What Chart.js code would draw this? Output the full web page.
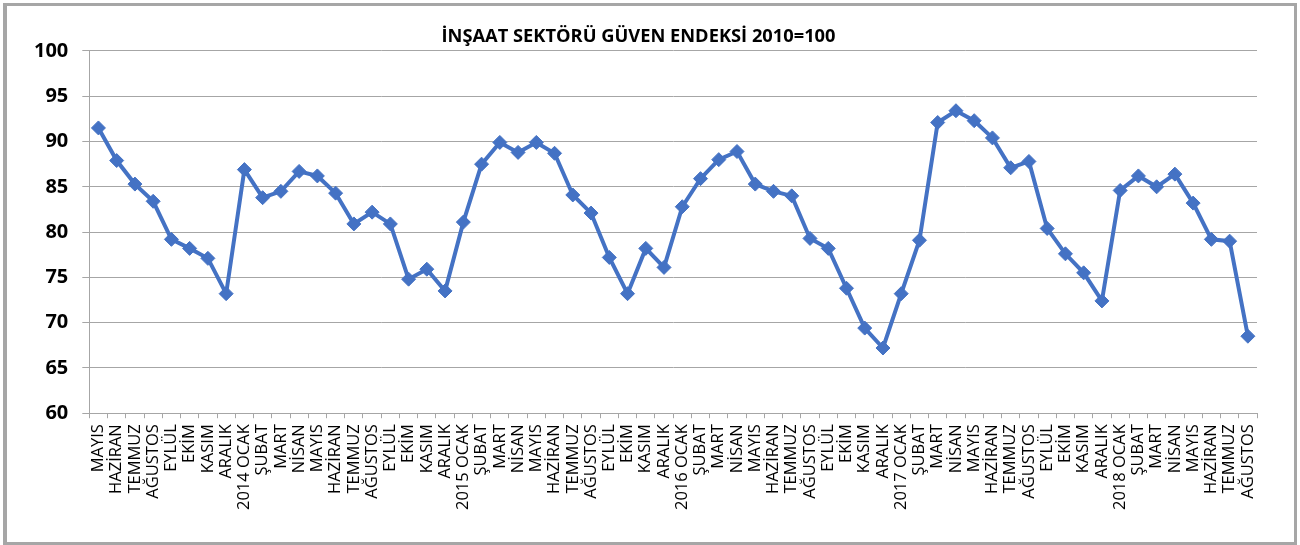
<!DOCTYPE html>
<html>
<head>
<meta charset="utf-8">
<script src="https://cdn.jsdelivr.net/npm/chart.js@4"></script>
<style>
  html, body { margin: 0; padding: 0; background: #ffffff; }
  #wrap { position: relative; width: 1300px; height: 545px; overflow: hidden; }
  #frame { position: absolute; left: 3px; top: 3px; width: 1287px; height: 536px;
           border-style: solid; border-color: #a6a6a6; border-width: 3px 3px 3px 4px;
           pointer-events: none; }
  canvas { position: absolute; left: 0; top: 0; }
</style>
</head>
<body>
<div id="wrap">
  <canvas id="c" width="1300" height="545"></canvas>
  <div id="frame"></div>
</div>
<script>
const titleText = 'İNŞAAT SEKTÖRÜ GÜVEN ENDEKSİ 2010=100';

const categories = [
  'MAYIS','HAZİRAN','TEMMUZ','AĞUSTOS','EYLÜL','EKİM','KASIM','ARALIK',
  '2014 OCAK','ŞUBAT','MART','NİSAN','MAYIS','HAZİRAN','TEMMUZ','AĞUSTOS','EYLÜL','EKİM','KASIM','ARALIK',
  '2015 OCAK','ŞUBAT','MART','NİSAN','MAYIS','HAZİRAN','TEMMUZ','AĞUSTOS','EYLÜL','EKİM','KASIM','ARALIK',
  '2016 OCAK','ŞUBAT','MART','NİSAN','MAYIS','HAZİRAN','TEMMUZ','AĞUSTOS','EYLÜL','EKİM','KASIM','ARALIK',
  '2017 OCAK','ŞUBAT','MART','NİSAN','MAYIS','HAZİRAN','TEMMUZ','AĞUSTOS','EYLÜL','EKİM','KASIM','ARALIK',
  '2018 OCAK','ŞUBAT','MART','NİSAN','MAYIS','HAZİRAN','TEMMUZ','AĞUSTOS'
];

const values2013 = [91.5, 87.9, 85.3, 83.4, 79.2, 78.2, 77.1, 73.2];
const values2014 = [86.9, 83.8, 84.5, 86.7, 86.2, 84.3, 80.9, 82.2, 80.9, 74.8, 75.9, 73.5];
const values2015 = [81.1, 87.5, 89.9, 88.8, 89.9, 88.7, 84.1, 82.1, 77.2, 73.2, 78.2, 76.1];
const values2016 = [82.8, 85.9, 88.0, 88.9, 85.3, 84.5, 84.0, 79.3, 78.2, 73.8, 69.4, 67.2];
const values2017 = [73.2, 79.1, 92.1, 93.4, 92.3, 90.4, 87.1, 87.8, 80.4, 77.6, 75.5, 72.4];
const values2018 = [84.6, 86.2, 85.0, 86.4, 83.2, 79.2, 79.0, 68.5];

const yMin = 60, yMax = 100, yStep = 5;

const seriesValues = [].concat(values2013, values2014, values2015, values2016, values2017, values2018);

const blue = '#4472C4';
const gridGray = '#a6a6a6';

new Chart(document.getElementById('c'), {
  type: 'line',
  data: {
    labels: categories,
    datasets: [{
      data: seriesValues,
      borderColor: blue,
      backgroundColor: blue,
      borderWidth: 4,
      pointStyle: 'rectRot',
      pointRadius: 7,
      pointBorderWidth: 1,
      pointBackgroundColor: blue,
      pointBorderColor: blue,
      tension: 0,
      fill: false
    }]
  },
  options: {
    responsive: false,
    animation: false,
    devicePixelRatio: 1,
    layout: { padding: { left: 20, right: 43, top: 0, bottom: 29 } },
    plugins: {
      legend: { display: false },
      tooltip: { enabled: false },
      title: {
        display: true,
        text: titleText,
        color: '#000000',
        font: { family: 'Open Sans', size: 18.3, weight: 'bold', lineHeight: 1.2 },
        padding: { top: 26, bottom: 3 }
      }
    },
    scales: {
      x: {
        offset: true,
        grid: {
          offset: true,
          drawOnChartArea: false,
          drawTicks: true,
          tickLength: 5,
          color: gridGray,
          lineWidth: 1
        },
        border: { display: true, color: gridGray, width: 1 },
        ticks: {
          autoSkip: false,
          maxRotation: 90,
          minRotation: 90,
          padding: 6,
          color: '#000000',
          font: { family: 'Open Sans', size: 16.5 }
        }
      },
      y: {
        min: yMin,
        max: yMax,
        grid: {
          color: gridGray,
          lineWidth: 1,
          drawTicks: true,
          tickLength: 7
        },
        border: { display: true, color: gridGray, width: 1 },
        ticks: {
          stepSize: yStep,
          padding: 14,
          color: '#000000',
          font: { family: 'Open Sans', size: 20, weight: 'bold' }
        }
      }
    }
  }
});
</script>
</body>
</html>
